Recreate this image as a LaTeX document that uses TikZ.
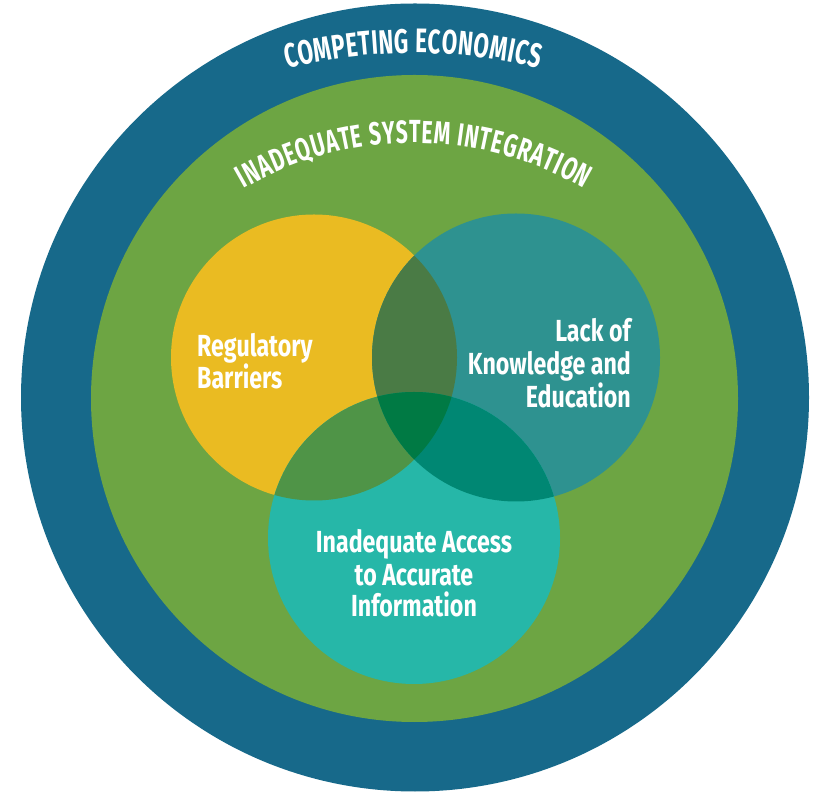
\documentclass[tikz,border=0pt]{standalone}
\usepackage{fontspec}
\newfontfamily\cond[FakeStretch=0.76]{Fira Sans}
\newfontfamily\condt[FakeStretch=0.66]{Fira Sans}
\usetikzlibrary{decorations.text}
\definecolor{ringblue}{RGB}{23,105,138}
\definecolor{ringgreen}{RGB}{109,165,67}
\definecolor{venyellow}{RGB}{234,187,34}
\definecolor{venteal}{RGB}{46,146,144}
\definecolor{vencyan}{RGB}{38,183,168}
\definecolor{mixyt}{RGB}{74,123,69}
\definecolor{mixyc}{RGB}{79,148,71}
\definecolor{mixtc}{RGB}{0,135,115}
\definecolor{mixall}{RGB}{0,122,68}
\begin{document}
\begin{tikzpicture}[x=1pt,y=1pt,
  lbl/.style={text=white, font=\cond\bfseries\fontsize{30.5}{32}\selectfont, inner sep=0pt}]
\useasboundingbox (0,0) rectangle (816,795);
\coordinate (O) at (415,397.5);
\coordinate (G) at (414.5,396.5);
\coordinate (Y) at (314,437.5);
\coordinate (T) at (516,437.5);
\coordinate (C) at (414,257);
\fill[ringblue] (O) circle[radius=394];
\fill[ringgreen] (G) circle[radius=323.5];
\fill[venyellow] (Y) circle[radius=143];
\fill[venteal] (T) circle[radius=144];
\fill[vencyan] (C) circle[radius=146];
\begin{scope}\clip (Y) circle[radius=143]; \fill[mixyt] (T) circle[radius=144]; \end{scope}
\begin{scope}\clip (Y) circle[radius=143]; \fill[mixyc] (C) circle[radius=146]; \end{scope}
\begin{scope}\clip (T) circle[radius=144]; \fill[mixtc] (C) circle[radius=146]; \end{scope}
\begin{scope}\clip (Y) circle[radius=143]; \clip (T) circle[radius=144]; \fill[mixall] (C) circle[radius=146]; \end{scope}
% curved titles
\coordinate (arcA) at (413,222);
\coordinate (arcB) at (414,312);
\path[decorate, decoration={text along path, text align=fit to path,
  text={|\condt\bfseries\fontsize{34}{34}\selectfont\color{white}|COMPETING ECONOMICS}}]
  (arcA) ++(104:520) arc[start angle=104, end angle=76, radius=520];
\path[decorate, decoration={text along path, text align=fit to path,
  text={|\condt\bfseries\fontsize{32}{32}\selectfont\color{white}|INADEQUATE SYSTEM INTEGRATION}}]
  (arcB) ++(120:340) arc[start angle=120, end angle=60, radius=340];
% venn labels
\node[lbl, anchor=base west] (reg1) at (197,438) {Regulatory};
\node[lbl, anchor=base west] (reg2) at (197,406) {Barriers};
\node[lbl, anchor=base east] (lack1) at (631,453) {Lack of};
\node[lbl, anchor=base east] (lack2) at (631,420) {Knowledge and};
\node[lbl, anchor=base east] (lack3) at (631,387) {Education};
\node[lbl, anchor=base] (acc1) at (414,242) {Inadequate Access};
\node[lbl, anchor=base] (acc2) at (414,209) {to Accurate};
\node[lbl, anchor=base] (acc3) at (414,178) {Information};
\end{tikzpicture}
\end{document}
